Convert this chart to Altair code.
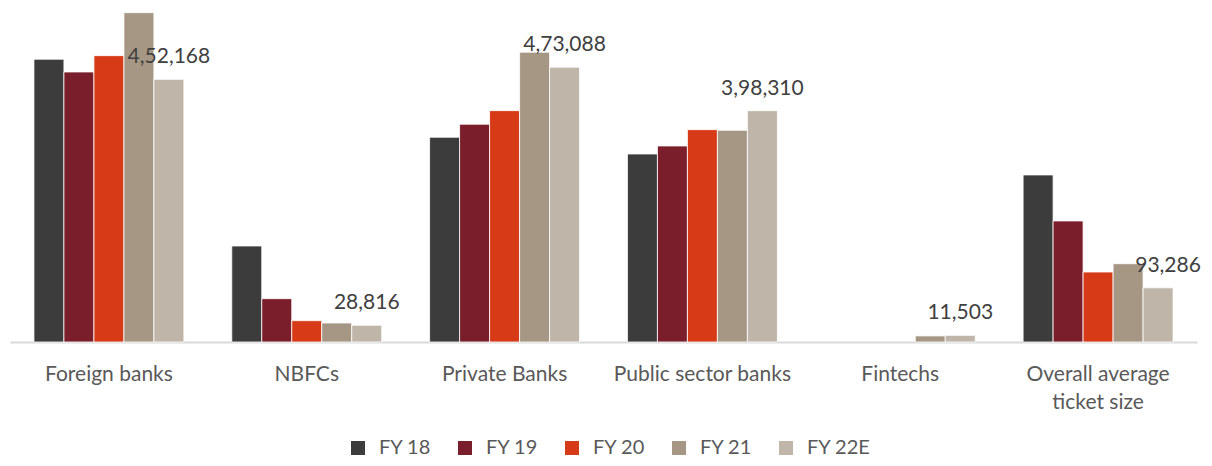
import altair as alt
import pandas as pd

categories = ["Foreign banks", "NBFCs", "Private Banks", "Public sector banks", "Fintechs", "Overall average|ticket size"]
series = ["FY 18", "FY 19", "FY 20", "FY 21", "FY 22E"]
colors = ["#3c3c3c", "#7b1e2b", "#d63a17", "#a69784", "#bfb6a9"]

fy18 = [486800, 165300, 352500, 323700, None, 287600]
fy19 = [464900, 74600, 374900, 337500, None, 208400]
fy20 = [493000, 36700, 398300, 365600, None, 120500]
fy21 = [567000, 32700, 498900, 364500, 10500, 134800]
fy22e = [452168, 28816, 473088, 398310, 11503, 93286]
label_text = ["4,52,168", "28,816", "4,73,088", "3,98,310", "11,503", "93,286"]

rows = []
for s, vals in zip(series, [fy18, fy19, fy20, fy21, fy22e]):
    for i, c in enumerate(categories):
        rows.append({"category": c, "series": s, "value": vals[i],
                     "label": label_text[i] if s == "FY 22E" else ""})
df = pd.DataFrame(rows)

FONT = "Lato"

x = alt.X("category:N", sort=categories, title=None,
          scale=alt.Scale(paddingInner=0.242, paddingOuter=0.121),
          axis=alt.Axis(labelAngle=0, labelFontSize=21, labelColor="#595959", labelFont=FONT,
                        labelExpr="split(datum.label, '|')", labelLineHeight=28,
                        labelPadding=21, ticks=False, domainColor="#d9d9d9", domainWidth=2))
xo = alt.XOffset("series:N", sort=series, scale=alt.Scale(domain=series, paddingInner=0, paddingOuter=0))
y = alt.Y("value:Q", axis=None, scale=alt.Scale(domain=[0, 575000], nice=False, zero=True))

bars = alt.Chart(df).transform_filter("isValid(datum.value)").mark_bar(
    stroke="white", strokeWidth=0.8
).encode(
    x=x, xOffset=xo, y=y,
    color=alt.Color("series:N", sort=series,
                    scale=alt.Scale(domain=series, range=colors),
                    legend=alt.Legend(title=None, orient="none", direction="horizontal",
                                      legendX=338, legendY=430, padding=0,
                                      symbolType="square", symbolSize=196, symbolStrokeWidth=0,
                                      labelFontSize=20, labelFont=FONT, labelColor="#595959",
                                      labelOffset=11, columnPadding=23))
)

base_lbl = alt.Chart(df).transform_filter("datum.series == 'FY 22E'")
labels = base_lbl.transform_filter("datum.category != 'Overall average|ticket size'").mark_text(
    baseline="alphabetic", dy=-16, fontSize=21, font=FONT, color="#404040"
).encode(x=x, xOffset=xo, y=y, text="label:N")
labels_last = base_lbl.transform_filter("datum.category == 'Overall average|ticket size'").mark_text(
    baseline="alphabetic", dy=-16, dx=10, fontSize=21, font=FONT, color="#404040"
).encode(x=x, xOffset=xo, y=y, text="label:N")

chart = alt.layer(bars, labels, labels_last).properties(
    width=1187, height=334,
    padding={"left": 2, "top": 0, "right": 7, "bottom": 116},
    autosize=alt.AutoSizeParams(type="none")
).configure_view(stroke=None).configure_axis(grid=False)

chart.save("out.html", embed_options={"renderer": "svg", "actions": False})
